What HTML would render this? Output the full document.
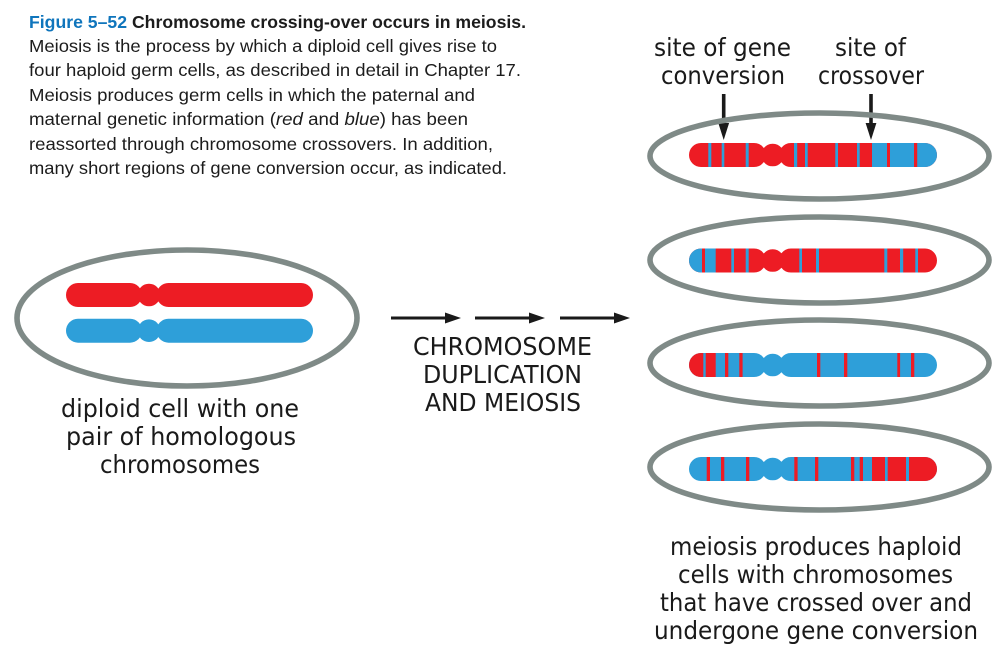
<!DOCTYPE html>
<html lang="en"><head><meta charset="utf-8"><title>Figure 5–52</title>
<style>
html,body{margin:0;padding:0;background:#fff;width:1003px;height:658px;overflow:hidden}
svg{display:block}
.c{font-family:"Liberation Sans",sans-serif;font-size:17.5px;fill:#1c1c1c}
.l{font-family:"DejaVu Sans",sans-serif;font-size:24.5px;fill:#1a1a1a}
.r{fill:#ed1c24}.b{fill:#2e9fd9}
.e{fill:none;stroke:#7f8a87;stroke-width:5.6}
</style></head><body>
<svg width="1003" height="658" viewBox="0 0 1003 658" xmlns="http://www.w3.org/2000/svg">
<defs>
<clipPath id="cp">
<rect x="689" y="-12" width="77" height="24" rx="12"/>
<rect x="779" y="-12" width="158" height="24" rx="12"/>
<circle cx="772.7" cy="0" r="11.3"/>
<rect x="762" y="-5" width="21" height="10"/>
</clipPath>
</defs>

<!-- caption -->
<text class="c" y="28" x="29" textLength="497" lengthAdjust="spacingAndGlyphs" style="font-weight:bold"><tspan fill="#0f75bc">Figure 5–52</tspan> Chromosome crossing-over occurs in meiosis.</text>
<text class="c" x="29" y="52" textLength="468" lengthAdjust="spacingAndGlyphs">Meiosis is the process by which a diploid cell gives rise to</text>
<text class="c" x="29" y="76" textLength="492" lengthAdjust="spacingAndGlyphs">four haploid germ cells, as described in detail in Chapter 17.</text>
<text class="c" x="29" y="101" textLength="446" lengthAdjust="spacingAndGlyphs">Meiosis produces germ cells in which the paternal and</text>
<text class="c" x="29" y="125" textLength="439" lengthAdjust="spacingAndGlyphs">maternal genetic information (<tspan font-style="italic">red</tspan> and <tspan font-style="italic">blue</tspan>) has been</text>
<text class="c" x="29" y="150" textLength="464" lengthAdjust="spacingAndGlyphs">reassorted through chromosome crossovers. In addition,</text>
<text class="c" x="29" y="174" textLength="478" lengthAdjust="spacingAndGlyphs">many short regions of gene conversion occur, as indicated.</text>

<!-- left cell -->
<ellipse class="e" cx="187" cy="318" rx="170" ry="68"/>
<g class="r">
<rect x="66" y="283" width="76" height="24" rx="12"/><rect x="156.5" y="283" width="156.5" height="24" rx="12"/>
<circle cx="149" cy="295" r="11.3"/><rect x="136" y="290" width="26" height="10"/>
</g>
<g class="b">
<rect x="66" y="318.7" width="76" height="24" rx="12"/><rect x="156.5" y="318.7" width="156.5" height="24" rx="12"/>
<circle cx="149" cy="330.7" r="11.3"/><rect x="136" y="325.7" width="26" height="10"/>
</g>

<!-- arrows -->
<g stroke="#1a1a1a" stroke-width="3">
<line x1="391" y1="318" x2="447" y2="318"/><line x1="475" y1="318" x2="531" y2="318"/><line x1="560" y1="318" x2="616" y2="318"/>
<line x1="723.7" y1="94" x2="723.7" y2="125" stroke-width="3.6"/><line x1="871" y1="94" x2="871" y2="125" stroke-width="3.6"/>
</g>
<g fill="#1a1a1a">
<polygon points="445,312.5 461,318 445,323.5"/><polygon points="529,312.5 545,318 529,323.5"/><polygon points="614,312.5 630,318 614,323.5"/>
<polygon points="718.3,123 729.1,123 723.7,140"/><polygon points="865.6,123 876.4,123 871,140"/>
</g>

<!-- right cells -->
<ellipse class="e" cx="819.5" cy="156" rx="169.5" ry="43"/>
<ellipse class="e" cx="819.5" cy="260" rx="169.5" ry="43"/>
<ellipse class="e" cx="819.5" cy="363" rx="169.5" ry="43"/>
<ellipse class="e" cx="819.5" cy="467" rx="169.5" ry="43"/>

<!-- chromosome 1 -->
<g transform="translate(0,155)"><g clip-path="url(#cp)">
<rect class="r" x="685" y="-14" width="256" height="28"/>
<rect class="b" x="872" y="-14" width="70" height="28"/>
<g class="b"><rect x="708.3" y="-14" width="3" height="28"/><rect x="721.7" y="-14" width="2.6" height="28"/><rect x="745.7" y="-14" width="3" height="28"/><rect x="794" y="-14" width="3.2" height="28"/><rect x="805" y="-14" width="2.7" height="28"/><rect x="835.3" y="-14" width="2.7" height="28"/><rect x="857" y="-14" width="2.7" height="28"/></g>
<g class="r"><rect x="887" y="-14" width="3" height="28"/><rect x="914" y="-14" width="3.2" height="28"/></g>
</g></g>

<!-- chromosome 2 -->
<g transform="translate(0,260.5)"><g clip-path="url(#cp)">
<rect class="r" x="685" y="-14" width="256" height="28"/>
<rect class="b" x="685" y="-14" width="30.7" height="28"/>
<rect class="r" x="702" y="-14" width="3" height="28"/>
<g class="b"><rect x="731.3" y="-14" width="2.7" height="28"/><rect x="745.7" y="-14" width="3" height="28"/><rect x="799.3" y="-14" width="2.7" height="28"/><rect x="816" y="-14" width="3" height="28"/><rect x="884.3" y="-14" width="3" height="28"/><rect x="900" y="-14" width="3.2" height="28"/><rect x="915.3" y="-14" width="2.7" height="28"/></g>
</g></g>

<!-- chromosome 3 -->
<g transform="translate(0,365)"><g clip-path="url(#cp)">
<rect class="b" x="685" y="-14" width="256" height="28"/>
<g class="r"><rect x="685" y="-14" width="18.3" height="28"/><rect x="705.7" y="-14" width="10" height="28"/><rect x="725" y="-14" width="3.3" height="28"/><rect x="739.3" y="-14" width="3.3" height="28"/><rect x="817" y="-14" width="3.3" height="28"/><rect x="844" y="-14" width="3.3" height="28"/><rect x="897.3" y="-14" width="2.8" height="28"/><rect x="911" y="-14" width="3.3" height="28"/></g>
</g></g>

<!-- chromosome 4 -->
<g transform="translate(0,469)"><g clip-path="url(#cp)">
<rect class="b" x="685" y="-14" width="256" height="28"/>
<g class="r"><rect x="706.7" y="-14" width="3.3" height="28"/><rect x="721" y="-14" width="3.3" height="28"/><rect x="746" y="-14" width="3.3" height="28"/><rect x="794.3" y="-14" width="3.3" height="28"/><rect x="815" y="-14" width="3.3" height="28"/><rect x="851" y="-14" width="3.3" height="28"/><rect x="859.7" y="-14" width="3.3" height="28"/><rect x="872" y="-14" width="70" height="28"/></g>
<g class="b"><rect x="885" y="-14" width="2.7" height="28"/><rect x="906" y="-14" width="3" height="28"/></g>
</g></g>

<!-- labels -->
<g class="l">
<text x="654" y="56" textLength="137" lengthAdjust="spacingAndGlyphs">site of gene</text>
<text x="661" y="84" textLength="124" lengthAdjust="spacingAndGlyphs">conversion</text>
<text x="835" y="56" textLength="71" lengthAdjust="spacingAndGlyphs">site of</text>
<text x="818" y="84" textLength="106" lengthAdjust="spacingAndGlyphs">crossover</text>
<text x="61" y="417" textLength="238" lengthAdjust="spacingAndGlyphs">diploid cell with one</text>
<text x="66" y="445" textLength="230" lengthAdjust="spacingAndGlyphs">pair of homologous</text>
<text x="100" y="473" textLength="160" lengthAdjust="spacingAndGlyphs">chromosomes</text>
<text x="413" y="355" textLength="179" lengthAdjust="spacingAndGlyphs">CHROMOSOME</text>
<text x="423" y="383" textLength="159" lengthAdjust="spacingAndGlyphs">DUPLICATION</text>
<text x="425" y="411" textLength="156" lengthAdjust="spacingAndGlyphs">AND MEIOSIS</text>
<text x="670" y="555" textLength="292" lengthAdjust="spacingAndGlyphs">meiosis produces haploid</text>
<text x="678" y="583" textLength="275" lengthAdjust="spacingAndGlyphs">cells with chromosomes</text>
<text x="660" y="611" textLength="312" lengthAdjust="spacingAndGlyphs">that have crossed over and</text>
<text x="654" y="639" textLength="324" lengthAdjust="spacingAndGlyphs">undergone gene conversion</text>
</g>
</svg>
</body></html>
